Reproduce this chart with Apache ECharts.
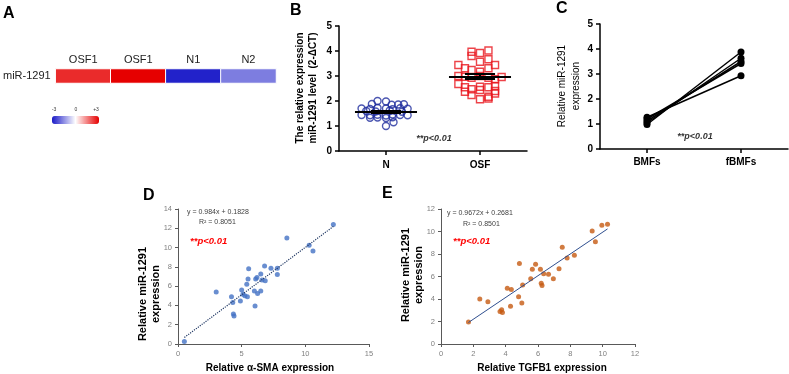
<!DOCTYPE html>
<html>
<head>
<meta charset="utf-8">
<script src="https://cdn.jsdelivr.net/npm/echarts@6/dist/echarts.min.js"></script>
<style>
html, body { margin: 0; padding: 0; background: #fff; }
#chart-box { width: 789px; height: 374px; }
</style>
</head>
<body>
<div id="chart-box"></div>
<script>
// A - heatmap
var heatCols = ['OSF1', 'OSF1', 'N1', 'N2'];
var heatRows = ['miR-1291'];
var heatValues = [2.5, 3.0, -2.9, -1.7];
var heatScaleLabels = ['-3', '0', '+3'];

// B - scatter dot plot (offset = position inside the group)
var bCats = ['N', 'OSF'];
var nValues = [2.00, 1.98, 1.88, 1.85, 1.86, 1.87, 1.70, 1.68, 1.72, 1.70, 1.67, 1.71, 1.69,
    1.60, 1.58, 1.62, 1.57, 1.44, 1.43, 1.45, 1.42, 1.46, 1.44, 1.43, 1.33, 1.34, 1.32, 1.35, 1.15, 1.00];
var nOffsets = [-0.09, 0, -0.15, 0.06, 0.13, 0.19, -0.26, -0.17, -0.09, 0, 0.07, 0.15, 0.23,
    -0.21, -0.11, 0.04, 0.17, -0.26, -0.17, -0.09, 0, 0.07, 0.15, 0.23, -0.17, -0.09, 0, 0.07, 0.08, 0];
var osfValues = [3.97, 3.92, 4.02, 3.80, 3.57, 3.67, 3.44, 3.31, 3.24, 3.17, 3.31, 3.44,
    3.00, 2.97, 2.93, 3.00, 2.93, 2.87, 2.96, 2.68, 2.55, 2.47, 2.57, 2.55, 2.60,
    2.37, 2.44, 2.40, 2.24, 2.17, 2.30, 2.07, 2.10];
var osfOffsets = [-0.09, 0, 0.09, -0.09, 0, 0.09, -0.23, -0.16, -0.09, 0, 0.09, 0.16,
    -0.23, -0.16, -0.09, 0, 0.09, 0.16, 0.23, -0.23, -0.16, -0.09, 0, 0.09, 0.16,
    -0.16, 0, 0.16, -0.09, 0.09, 0.16, 0, 0.09];
var bMeans = [1.58, 2.99];
var bSems = [0.04, 0.09];

// C - paired lines
var cCats = ['BMFs', 'fBMFs'];
var cBMFs = [0.98, 1.05, 1.12, 1.20, 1.27];
var cFBMFs = [3.88, 3.63, 3.50, 3.42, 2.93];

// D - a-SMA vs miR-1291
var dSMA = [0.5, 3.0, 4.2, 4.3, 4.35, 4.4, 4.9, 5.0, 5.1, 5.25, 5.45, 5.4, 5.5, 5.55, 6.0, 6.05,
    6.1, 6.2, 6.25, 6.5, 6.6, 6.5, 6.8, 6.85, 7.3, 7.8, 7.8, 8.55, 10.3, 10.6, 12.2];
var dMiR = [0.25, 5.4, 4.9, 4.3, 3.1, 2.9, 4.45, 5.6, 5.15, 5.0, 4.9, 6.2, 6.75, 7.8, 5.5, 3.95,
    6.75, 6.9, 5.25, 7.25, 6.65, 5.5, 8.1, 6.55, 7.85, 7.85, 7.2, 11.0, 10.25, 9.65, 12.4];
var dFit = [0.984, 0.1828];
var dR2 = '0.8051';

// E - TGFB1 vs miR-1291
var eTGFB1 = [1.7, 2.4, 2.9, 3.65, 3.75, 3.8, 4.1, 4.3, 4.35, 4.8, 4.85, 5.0, 5.05, 5.55, 5.65,
    5.85, 6.15, 6.2, 6.25, 6.35, 6.65, 6.95, 7.3, 7.5, 7.8, 8.25, 9.35, 9.55, 9.95, 10.3];
var eMiR = [1.95, 4.0, 3.75, 2.9, 3.05, 2.8, 4.95, 3.35, 4.85, 4.2, 7.15, 3.65, 5.25, 5.8, 6.65,
    7.1, 6.65, 5.4, 5.2, 6.25, 6.2, 5.8, 6.7, 8.6, 7.65, 7.9, 10.05, 9.1, 10.55, 10.65];
var eFit = [0.9672, 0.2681];
var eR2 = '0.8501';

var FONT = 'Liberation Sans, Arial, sans-serif';

function txt(x, y, text, font, fill, align, rot, lh) {
    return {
        type: 'text', x: x, y: y, rotation: rot || 0, silent: true, z: 100,
        style: {
            text: text, font: font, fill: fill || '#000',
            align: align || 'left', textAlign: align || 'left',
            verticalAlign: 'middle', textVerticalAlign: 'middle',
            lineHeight: lh || undefined
        }
    };
}

function fitLine(xs, fit) {
    var lo = Math.min.apply(null, xs), hi = Math.max.apply(null, xs);
    return [[lo, fit[0] * lo + fit[1]], [hi, fit[0] * hi + fit[1]]];
}

function meanLines() {
    var out = [];
    bMeans.forEach(function(m, g) {
        var c = g + 0.5, s = bSems[g];
        out.push([{ coord: [c - 0.33, m] }, { coord: [c + 0.33, m] }]);
        out.push([{ coord: [c - 0.16, m + s] }, { coord: [c + 0.16, m + s] }]);
        out.push([{ coord: [c - 0.16, m - s] }, { coord: [c + 0.16, m - s] }]);
        out.push([{ coord: [c, m - s] }, { coord: [c, m + s] }]);
    });
    return out;
}

var blackLine = { show: true, onZero: false, lineStyle: { color: '#000', width: 1.5 } };
var blackTick = { show: true, length: 4, lineStyle: { color: '#000', width: 1.5 } };
var grayLine = { show: true, onZero: false, lineStyle: { color: '#595959', width: 1 } };
var grayTick = { show: true, length: 3, lineStyle: { color: '#595959', width: 1 } };
var grayLabel = { fontSize: 7.5, color: '#808080', fontFamily: FONT };

var option = {
    animation: false,
    backgroundColor: '#fff',
    textStyle: { fontFamily: FONT },
    grid: [
        { left: 53, top: 69, width: 223, height: 14 },
        { left: 339, top: 26, width: 188, height: 125 },
        { left: 600, top: 24, width: 188, height: 125 },
        { left: 178, top: 209, width: 191, height: 135 },
        { left: 441, top: 209, width: 194, height: 135 }
    ],
    xAxis: [
        { gridIndex: 0, type: 'category', position: 'top', data: heatCols,
          axisLine: { show: false }, axisTick: { show: false },
          axisLabel: { fontSize: 11, color: '#222', margin: 4 } },
        { gridIndex: 1, type: 'category', data: bCats, axisLine: blackLine,
          axisTick: { show: true, alignWithLabel: true, length: 4, lineStyle: { color: '#000', width: 1.5 } },
          axisLabel: { fontSize: 10, fontWeight: 'bold', color: '#000', margin: 9 } },
        { gridIndex: 1, type: 'value', min: 0, max: 2, show: false },
        { gridIndex: 2, type: 'category', data: cCats, axisLine: blackLine,
          axisTick: { show: true, alignWithLabel: true, length: 4, lineStyle: { color: '#000', width: 1.5 } },
          axisLabel: { fontSize: 10, fontWeight: 'bold', color: '#000', margin: 8 } },
        { gridIndex: 3, type: 'value', min: 0, max: 15, interval: 5, axisLine: grayLine, axisTick: grayTick,
          axisLabel: Object.assign({ margin: 6 }, grayLabel), splitLine: { show: false } },
        { gridIndex: 4, type: 'value', min: 0, max: 12, interval: 2, axisLine: grayLine, axisTick: grayTick,
          axisLabel: Object.assign({ margin: 6 }, grayLabel), splitLine: { show: false } }
    ],
    yAxis: [
        { gridIndex: 0, type: 'category', data: heatRows,
          axisLine: { show: false }, axisTick: { show: false },
          axisLabel: { fontSize: 11, color: '#222', margin: 5 } },
        { gridIndex: 1, type: 'value', min: 0, max: 5, interval: 1, axisLine: blackLine, axisTick: blackTick,
          axisLabel: { fontSize: 10, fontWeight: 'bold', color: '#000', margin: 7 }, splitLine: { show: false } },
        { gridIndex: 2, type: 'value', min: 0, max: 5, interval: 1, axisLine: blackLine, axisTick: blackTick,
          axisLabel: { fontSize: 10, fontWeight: 'bold', color: '#000', margin: 7 }, splitLine: { show: false } },
        { gridIndex: 3, type: 'value', min: 0, max: 14, interval: 2, axisLine: grayLine, axisTick: grayTick,
          axisLabel: Object.assign({ margin: 6 }, grayLabel), splitLine: { show: false } },
        { gridIndex: 4, type: 'value', min: 0, max: 12, interval: 2, axisLine: grayLine, axisTick: grayTick,
          axisLabel: Object.assign({ margin: 6 }, grayLabel), splitLine: { show: false } }
    ],
    visualMap: {
        type: 'continuous', seriesIndex: 0, min: -3, max: 3,
        orient: 'horizontal', left: 52, top: 116, padding: 0,
        itemWidth: 8, itemHeight: 47, calculable: false, text: null,
        inRange: { color: ['#1a1ac8', '#ffffff', '#e60000'] }
    },
    series: [
        {
            type: 'heatmap', xAxisIndex: 0, yAxisIndex: 0,
            data: heatValues.map(function(v, i) { return [i, 0, v]; }),
            itemStyle: { borderColor: '#fff', borderWidth: 1 }
        },
        {
            type: 'scatter', xAxisIndex: 2, yAxisIndex: 1, symbol: 'circle', symbolSize: 7,
            itemStyle: { color: 'rgba(0,0,0,0)', borderColor: '#1f2d9e', borderWidth: 1.4 },
            data: nValues.map(function(v, i) { return [0.5 + nOffsets[i], v]; }),
            markLine: {
                silent: true, symbol: ['none', 'none'], label: { show: false },
                lineStyle: { color: '#000', width: 2, type: 'solid' },
                data: meanLines()
            }
        },
        {
            type: 'scatter', xAxisIndex: 2, yAxisIndex: 1, symbol: 'rect', symbolSize: 7,
            itemStyle: { color: 'rgba(0,0,0,0)', borderColor: '#e8141c', borderWidth: 1.4 },
            data: osfValues.map(function(v, i) { return [1.5 + osfOffsets[i], v]; })
        }
    ].concat(cBMFs.map(function(b, i) {
        return {
            type: 'line', xAxisIndex: 3, yAxisIndex: 2, data: [b, cFBMFs[i]],
            symbol: 'circle', symbolSize: 7,
            lineStyle: { color: '#000', width: 1.5 }, itemStyle: { color: '#000' }
        };
    })).concat([
        {
            type: 'scatter', xAxisIndex: 4, yAxisIndex: 3, symbolSize: 5,
            itemStyle: { color: '#4472c4' },
            data: dSMA.map(function(x, i) { return [x, dMiR[i]]; })
        },
        {
            type: 'line', xAxisIndex: 4, yAxisIndex: 3, symbol: 'none',
            lineStyle: { color: '#203864', width: 1.2, type: 'dotted' },
            data: fitLine(dSMA, dFit)
        },
        {
            type: 'scatter', xAxisIndex: 5, yAxisIndex: 4, symbolSize: 5,
            itemStyle: { color: '#c55a11' },
            data: eTGFB1.map(function(x, i) { return [x, eMiR[i]]; })
        },
        {
            type: 'line', xAxisIndex: 5, yAxisIndex: 4, symbol: 'none',
            lineStyle: { color: '#2f4f8f', width: 1 },
            data: fitLine(eTGFB1, eFit)
        }
    ]),
    graphic: [
        txt(3, 14, 'A', 'bold 16px ' + FONT),
        txt(290, 11, 'B', 'bold 16px ' + FONT),
        txt(556, 9, 'C', 'bold 16px ' + FONT),
        txt(143, 196, 'D', 'bold 16px ' + FONT),
        txt(382, 194, 'E', 'bold 16px ' + FONT),
        txt(54, 110, heatScaleLabels[0], '5px ' + FONT, '#333', 'center'),
        txt(76, 110, heatScaleLabels[1], '5px ' + FONT, '#333', 'center'),
        txt(96, 110, heatScaleLabels[2], '5px ' + FONT, '#333', 'center'),
        txt(306.5, 88, 'The relative expression\nmiR-1291 level  (2-ΔCT)', 'bold 10px ' + FONT, '#000', 'center', Math.PI / 2, 13),
        txt(434, 139, '**p<0.01', 'italic bold 9px ' + FONT, '#333', 'center'),
        txt(569, 86, 'Relative miR-1291\nexpression', '10px ' + FONT, '#000', 'center', Math.PI / 2, 14),
        txt(695, 137, '**p<0.01', 'italic bold 9px ' + FONT, '#333', 'center'),
        txt(149.5, 294, 'Relative miR-1291\nexpression', 'bold 11px ' + FONT, '#000', 'center', Math.PI / 2, 13),
        txt(270, 368, 'Relative α-SMA expression', 'bold 10px ' + FONT, '#000', 'center'),
        txt(187, 212, 'y = ' + dFit[0] + 'x + ' + dFit[1], '7px ' + FONT, '#404040'),
        txt(199, 222, 'R² = ' + dR2, '7px ' + FONT, '#404040'),
        txt(190, 241, '**p<0.01', 'italic bold 9.5px ' + FONT, '#ff0000'),
        txt(412.5, 275, 'Relative miR-1291\nexpression', 'bold 11px ' + FONT, '#000', 'center', Math.PI / 2, 13),
        txt(542, 368, 'Relative TGFB1 expression', 'bold 10px ' + FONT, '#000', 'center'),
        txt(447, 213, 'y = ' + eFit[0] + 'x + ' + eFit[1], '7px ' + FONT, '#404040'),
        txt(463, 224, 'R² = ' + eR2, '7px ' + FONT, '#404040'),
        txt(453, 241, '**p<0.01', 'italic bold 9.5px ' + FONT, '#ff0000')
    ]
};

var myChart = echarts.init(document.getElementById('chart-box'), null, { renderer: 'canvas' });
myChart.setOption(option);
</script>
</body>
</html>
